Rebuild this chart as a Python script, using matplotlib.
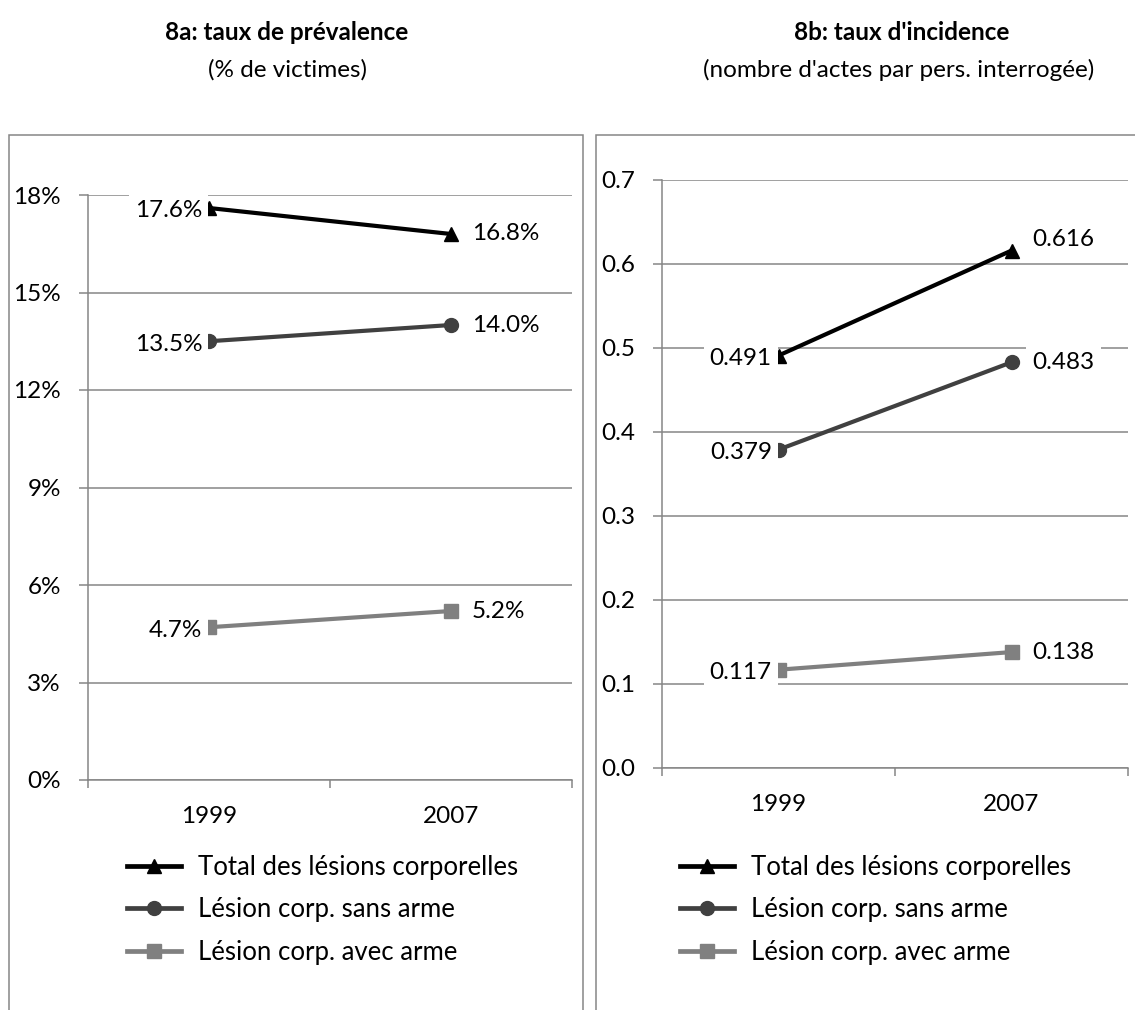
import matplotlib.pyplot as plt
from matplotlib.lines import Line2D
from matplotlib.patches import Rectangle
from matplotlib.ticker import FuncFormatter, MultipleLocator

plt.rcParams["font.family"] = ["Lato", "DejaVu Sans"]

YEARS = ["1999", "2007"]
SERIES = ["Total des lésions corporelles", "Lésion corp. sans arme", "Lésion corp. avec arme"]

PREVALENCE_TOTAL = [17.6, 16.8]
PREVALENCE_SANS = [13.5, 14.0]
PREVALENCE_AVEC = [4.7, 5.2]

INCIDENCE_TOTAL = [0.491, 0.616]
INCIDENCE_SANS = [0.379, 0.483]
INCIDENCE_AVEC = [0.117, 0.138]

COLORS = ["#000000", "#404040", "#808080"]
MARKERS = ["^", "o", "s"]
GRID = "#868686"
FS = 17.5

W, H = 1135, 1010


def fx(px):
    return px / W


def fy(py):
    return 1 - py / H


def draw_panel(ax, series, ymax, step, fmt, label_fmt, label_dy):
    x = [0.5, 1.5]
    for i, values in enumerate(series):
        ax.plot(x, values, color=COLORS[i], marker=MARKERS[i], lw=3.0, ms=10,
                solid_capstyle="butt", zorder=3, clip_on=False)
        box = dict(boxstyle="square,pad=0.25", fc="white", ec="none")
        # the white box of the left label hides half of the first marker
        ax.annotate(label_fmt(values[0]), (x[0], values[0]), xytext=(-4.8, -2),
                    textcoords="offset points", ha="right", va="center",
                    fontsize=FS, bbox=box, zorder=4)
        ax.annotate(label_fmt(values[1]), (x[1], values[1]), xytext=(15, label_dy[i]),
                    textcoords="offset points", ha="left", va="center",
                    fontsize=FS, bbox=box, zorder=4)

    ax.set_xlim(0, 2)
    ax.set_ylim(0, ymax)
    ax.yaxis.set_major_locator(MultipleLocator(step))
    ax.yaxis.set_major_formatter(FuncFormatter(fmt))
    ax.set_xticks([0, 1, 2])
    ax.set_xticklabels([])
    ax.set_xticks(x, YEARS, minor=True)
    ax.tick_params(axis="x", which="minor", length=0, pad=13 + 6, labelsize=FS)
    ax.tick_params(axis="x", which="major", length=6, width=1.1, color=GRID, direction="out")
    ax.tick_params(axis="y", length=6.5, width=1.1, color=GRID, direction="out", pad=13, labelsize=FS)
    ax.grid(axis="y", color=GRID, lw=1.1)
    ax.set_axisbelow(True)
    for side in ("top", "right"):
        ax.spines[side].set_visible(False)
    for side in ("left", "bottom"):
        ax.spines[side].set_color(GRID)
        ax.spines[side].set_linewidth(1.1)


fig = plt.figure(figsize=(W / 100, H / 100), dpi=100)

ax_a = fig.add_axes([fx(88), fy(780), fx(572) - fx(88), fy(195) - fy(780)])
ax_b = fig.add_axes([fx(662), fy(768), fx(1128) - fx(662), fy(180) - fy(768)])

draw_panel(ax_a, [PREVALENCE_TOTAL, PREVALENCE_SANS, PREVALENCE_AVEC], 18, 3,
           lambda v, _: f"{v:.0f}%", lambda v: f"{v:.1f}%", [0, 0, 0])
draw_panel(ax_b, [INCIDENCE_TOTAL, INCIDENCE_SANS, INCIDENCE_AVEC], 0.7, 0.1,
           lambda v, _: f"{v:.1f}", lambda v: f"{v:.3f}", [8, 0, 0])

# panel frames, open past the bottom edge
for x0, x1 in [(9, 583), (596, 1145)]:
    fig.add_artist(Rectangle((fx(x0), fy(1030)), fx(x1) - fx(x0), fy(135) - fy(1030),
                             transform=fig.transFigure, fill=False, ec=GRID, lw=1.1))

fig.text(fx(287), fy(32), "8a: taux de prévalence", ha="center", va="center",
         fontsize=FS, fontweight="bold")
fig.text(fx(288), fy(70), "(% de victimes)", ha="center", va="center", fontsize=FS)
fig.text(fx(902), fy(32), "8b: taux d'incidence", ha="center", va="center",
         fontsize=FS, fontweight="bold")
fig.text(fx(899), fy(70), "(nombre d'actes par pers. interrogée)", ha="center", va="center",
         fontsize=FS)

handles = [Line2D([], [], color=c, marker=m, lw=3.4, ms=10) for c, m in zip(COLORS, MARKERS)]
for left in (127, 680):
    fig.legend(handles, SERIES, loc="upper left", bbox_to_anchor=(fx(left), fy(855)),
               frameon=False, fontsize=18.5, handlelength=2.1, handletextpad=0.65,
               labelspacing=0.68, borderpad=0, borderaxespad=0)

fig.savefig("out.png", dpi=100)
